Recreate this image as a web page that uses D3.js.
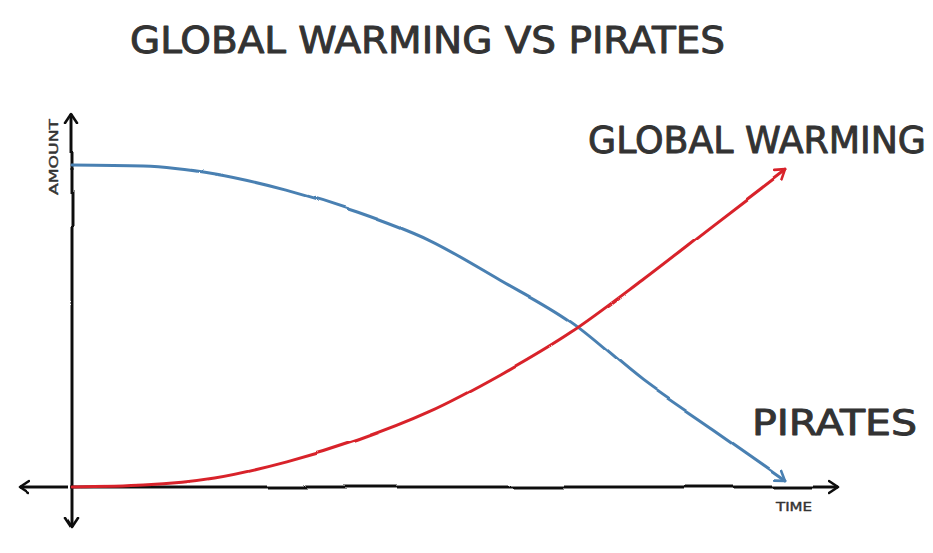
<!DOCTYPE html>
<html>
<head>
<meta charset="utf-8">
<script src="https://cdn.jsdelivr.net/npm/d3@7"></script>
<style>
  body { margin: 0; background: #fff; }
  text { font-family: "DejaVu Sans Condensed", "DejaVu Sans", sans-serif; fill: #333; stroke: #333; stroke-linejoin: round; }
</style>
</head>
<body>
<div id="chart"></div>
<script>
// time steps and the two series (amount, 0-100)
var times = [0, 1, 2, 3, 4, 5, 6, 7, 8, 9, 10];
var globalWarming = [0, 0.6, 2.8, 7.8, 14.6, 23.3, 34.8, 48.1, 64.3, 81.4, 98.4];
var pirates = [100, 99.7, 97.2, 92.2, 85.4, 76.7, 64.3, 51.2, 33.2, 17.7, 2.2];

var W = 933, H = 553;
var svg = d3.select("#chart").append("svg")
  .attr("width", W).attr("height", H);

var x = d3.scaleLinear().domain([0, 10]).range([72, 785]);
var y = d3.scaleLinear().domain([0, 100]).range([487, 165]);

var defs = svg.append("defs");
// a little wobble so it looks hand drawn
var f = defs.append("filter").attr("id", "wobble")
  .attr("x", "-5%").attr("y", "-5%").attr("width", "110%").attr("height", "110%");
f.append("feTurbulence").attr("type", "fractalNoise")
  .attr("baseFrequency", 0.012).attr("numOctaves", 1).attr("seed", 3).attr("result", "n");
f.append("feDisplacementMap").attr("in", "SourceGraphic").attr("in2", "n")
  .attr("scale", 4).attr("xChannelSelector", "R").attr("yChannelSelector", "G");

function marker(id, color) {
  defs.append("marker").attr("id", id)
    .attr("viewBox", "-10 -8 12 16").attr("refX", 0).attr("refY", 0)
    .attr("markerWidth", 12).attr("markerHeight", 16)
    .attr("markerUnits", "userSpaceOnUse").attr("orient", "auto")
    .append("path").attr("d", "M-9,-6 L0,0 L-9,6")
    .attr("fill", "none").attr("stroke", color)
    .attr("stroke-width", 2.6).attr("stroke-linecap", "round").attr("stroke-linejoin", "round");
}
marker("ak", "#111");
marker("ab", "#4a80b2");
marker("ar", "#d8232a");

var g = svg.append("g").attr("filter", "url(#wobble)");

// axes: arrows on both ends
var x0 = x(0), yb = y(0);
g.append("line").attr("x1", x0).attr("x2", x0).attr("y1", 170).attr("y2", 114)
  .attr("stroke", "#111").attr("stroke-width", 3).attr("marker-end", "url(#ak)");
g.append("line").attr("x1", x0).attr("x2", x0).attr("y1", 168).attr("y2", 527)
  .attr("stroke", "#111").attr("stroke-width", 3).attr("marker-end", "url(#ak)");
g.append("line").attr("x1", 68).attr("x2", 20).attr("y1", yb).attr("y2", yb)
  .attr("stroke", "#111").attr("stroke-width", 3).attr("marker-end", "url(#ak)");
g.append("line").attr("x1", 70).attr("x2", 838).attr("y1", yb).attr("y2", yb)
  .attr("stroke", "#111").attr("stroke-width", 3).attr("marker-end", "url(#ak)");

var line = d3.line().curve(d3.curveMonotoneX);

g.append("path")
  .attr("d", line(times.map(function (t, i) { return [x(t), y(pirates[i])]; })))
  .attr("fill", "none").attr("stroke", "#4a80b2").attr("stroke-width", 3)
  .attr("stroke-linecap", "round").attr("marker-end", "url(#ab)");

g.append("path")
  .attr("d", line(times.map(function (t, i) { return [x(t), y(globalWarming[i])]; })))
  .attr("fill", "none").attr("stroke", "#d8232a").attr("stroke-width", 3)
  .attr("stroke-linecap", "round").attr("marker-end", "url(#ar)");

// texts
svg.append("text").attr("x", 130).attr("y", 53)
  .attr("textLength", 595).attr("lengthAdjust", "spacingAndGlyphs")
  .style("font-size", "38px").style("stroke-width", 0.9).text("GLOBAL WARMING VS PIRATES");

svg.append("text").attr("x", 588).attr("y", 153)
  .attr("textLength", 338).attr("lengthAdjust", "spacingAndGlyphs")
  .style("font-size", "38px").style("stroke-width", 0.9).text("GLOBAL WARMING");

svg.append("text").attr("x", 752).attr("y", 435)
  .attr("textLength", 165).attr("lengthAdjust", "spacingAndGlyphs")
  .style("font-size", "36px").style("stroke-width", 0.9).text("PIRATES");

svg.append("text").attr("transform", "translate(58,195) rotate(-90)")
  .attr("textLength", 76).attr("lengthAdjust", "spacingAndGlyphs")
  .style("font-size", "13px").style("stroke-width", 0.4).text("AMOUNT");

svg.append("text").attr("x", 776).attr("y", 511)
  .attr("textLength", 36).attr("lengthAdjust", "spacingAndGlyphs")
  .style("font-size", "13px").style("stroke-width", 0.4).text("TIME");
</script>
</body>
</html>
